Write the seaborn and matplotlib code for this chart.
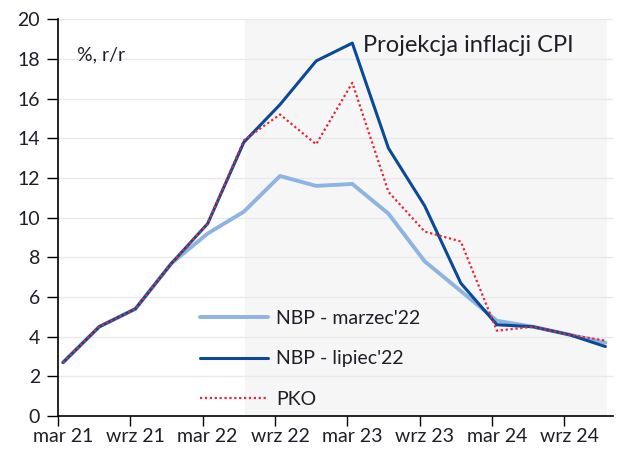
import numpy as np
import pandas as pd
import matplotlib
matplotlib.use("Agg")
import matplotlib.pyplot as plt
import seaborn as sns

# ---- data ----
quarters = ["mar 21", "cze 21", "wrz 21", "gru 21", "mar 22", "cze 22", "wrz 22", "gru 22",
            "mar 23", "cze 23", "wrz 23", "gru 23", "mar 24", "cze 24", "wrz 24", "gru 24"]
nbp_marzec = [2.7, 4.5, 5.4, 7.7, 9.2, 10.3, 12.1, 11.6, 11.7, 10.2, 7.8, 6.3, 4.8, 4.5, 4.1, 3.7]
nbp_lipiec = [2.7, 4.5, 5.4, 7.7, 9.7, 13.8, 15.7, 17.9, 18.8, 13.5, 10.6, 6.7, 4.6, 4.5, 4.1, 3.5]
pko        = [2.7, 4.5, 5.4, 7.7, 9.7, 13.9, 15.2, 13.7, 16.8, 11.3, 9.3, 8.8, 4.3, 4.5, 4.1, 3.8]
series_names = ["NBP - marzec'22", "NBP - lipiec'22", "PKO"]
tick_labels = ["mar 21", "wrz 21", "mar 22", "wrz 22", "mar 23", "wrz 23", "mar 24", "wrz 24"]
y_ticks = [0, 2, 4, 6, 8, 10, 12, 14, 16, 18, 20]
title_text = "Projekcja inflacji CPI"
unit_text = "%, r/r"

idx = np.arange(len(quarters))
df = pd.concat([
    pd.DataFrame({"idx": idx, "value": vals, "series": name})
    for name, vals in zip(series_names, [nbp_marzec, nbp_lipiec, pko])
], ignore_index=True)

sns.set_theme(style="white")
plt.rcParams["font.family"] = ["Lato", "DejaVu Sans"]
text_color = "#1e1e28"

fig = plt.figure(figsize=(6.28, 4.67), dpi=100)
ax = fig.add_axes([58/628, 1-416/467, (613-58)/628, (416-19.3)/467])

# projection shading
ax.axvspan(5.03, 15.05, color="#f6f6f6", zorder=0, lw=0)
for yv in y_ticks[1:]:
    ax.axhline(yv, color="#e9e9e9", lw=1, zorder=0.5)

palette = {"NBP - marzec'22": "#8db4e2", "NBP - lipiec'22": "#0b4a96", "PKO": "#e8263b"}
widths = {"NBP - marzec'22": 2.8, "NBP - lipiec'22": 2.2, "PKO": 1.6}
handles = []
for name in series_names:
    sub = df[df.series == name]
    sns.lineplot(data=sub, x="idx", y="value", color=palette[name], lw=widths[name],
                 ax=ax, legend=False, zorder=3)
    line = ax.lines[-1]
    if name == "PKO":
        line.set_dashes((1, 1.2))
    handles.append(line)

ax.set_xlim(-0.14, 15.21)
ax.set_ylim(0, 20)
ax.set_xlabel("")
ax.set_ylabel("")

# ticks
ax.set_xticks(np.arange(0, 16, 2) - 0.14)
ax.set_xticklabels([])
ax.set_xticks(np.arange(0, 16, 2), minor=True)
ax.set_xticklabels(tick_labels, minor=True)
ax.tick_params(axis="x", which="major", direction="out", length=7, width=1, color="black", bottom=True)
ax.tick_params(axis="x", which="minor", length=0, labelsize=14, labelcolor=text_color, pad=9)
ax.set_yticks(y_ticks)
ax.set_yticklabels([str(v) for v in y_ticks])
ax.tick_params(axis="y", direction="out", length=8, width=1, color="black", left=True,
               labelsize=14, labelcolor=text_color, pad=5)

for s in ["top", "right"]:
    ax.spines[s].set_visible(False)
for s in ["left", "bottom"]:
    ax.spines[s].set_color("black")
    ax.spines[s].set_linewidth(1.2)

ax.text(77/628, 1-55/467, unit_text, transform=fig.transFigure, fontsize=14,
        color=text_color, va="center", ha="left")
ax.text(363/628, 1-45/467, title_text, transform=fig.transFigure, fontsize=17,
        color=text_color, va="center", ha="left")

leg = ax.legend(handles, series_names, loc="upper left", bbox_to_anchor=(200/628, 1-310/467),
                bbox_transform=fig.transFigure, frameon=False, fontsize=14,
                handlelength=3.5, handletextpad=0.4, labelspacing=1.2,
                borderpad=0, borderaxespad=0)
for t in leg.get_texts():
    t.set_color(text_color)

fig.savefig("out.png", dpi=100)
